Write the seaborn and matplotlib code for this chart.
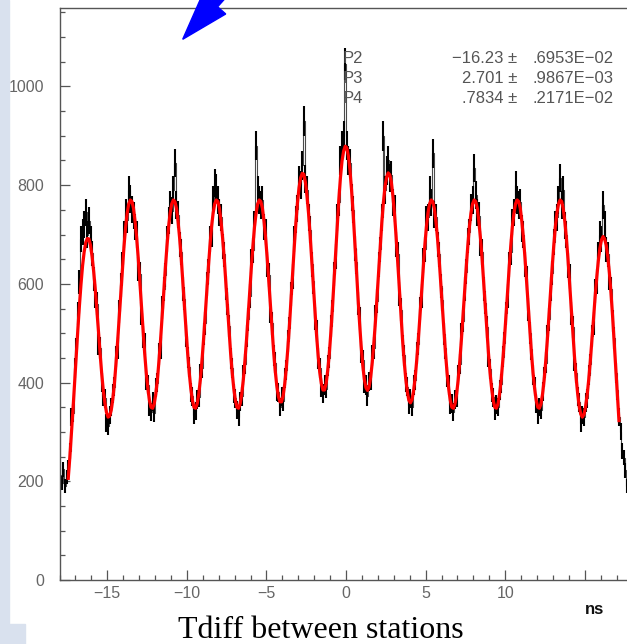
import numpy as np
import pandas as pd
import matplotlib
matplotlib.use("Agg")
import matplotlib.pyplot as plt
from matplotlib.patches import Polygon, Rectangle
from matplotlib.ticker import MultipleLocator, FixedLocator
import seaborn as sns

# Tdiff histogram, 0.1 ns bins starting at -18.0 ns
bin_lo = -18.0
bin_w = 0.1
counts = [
    212, 196, 224, 190, 208, 228, 262, 330, 338, 430, 468, 540, 604, 690, 705, 720, 745, 700,
    728, 690, 662, 610, 575, 560, 478, 470, 400, 372, 368, 318, 312, 335, 350, 378, 392, 452, 470, 545, 598, 640, 700, 745, 730, 790, 772,
    750, 738, 715, 700, 630, 620, 540, 492, 478, 405, 396, 352, 340, 362, 338, 390, 400, 458, 470, 552, 590, 618, 690, 728, 760, 748, 790,
    845, 760, 740, 680, 665, 590, 570, 495, 450, 432, 380, 372, 335, 342, 366, 370, 418, 430, 498, 520, 600, 625, 690, 702, 770, 805, 795,
    770, 745, 735, 676, 660, 592, 560, 515, 448, 430, 378, 368, 345, 330, 362, 372, 415, 438, 495, 528, 575, 645, 668, 720, 880, 790, 770,
    760, 770, 715, 705, 640, 618, 545, 520, 455, 440, 382, 380, 350, 372, 362, 410, 425, 485, 510, 580, 615, 690, 730, 752, 810, 800, 840,
    930, 812, 790, 735, 710, 640, 605, 530, 505, 448, 430, 390, 378, 395, 388, 435, 450, 515, 545, 620, 655, 735, 765, 850, 880, 900, 1045,
    880, 850, 845, 775, 750, 672, 645, 560, 530, 462, 445, 398, 395, 372, 402, 405, 455, 470, 535, 565, 640, 670, 735, 900, 790, 830, 850,
    815, 820, 765, 752, 680, 660, 580, 548, 475, 455, 400, 392, 355, 368, 350, 395, 405, 460, 478, 550, 575, 648, 670, 730, 735, 790, 765,
    865, 740, 735, 680, 660, 595, 568, 498, 470, 412, 395, 355, 358, 340, 365, 370, 415, 438, 498, 525, 590, 625, 688, 705, 755, 770, 835,
    780, 745, 738, 682, 665, 590, 562, 512, 452, 428, 380, 370, 342, 355, 350, 385, 398, 452, 480, 540, 575, 640, 665, 725, 745, 800, 770,
    760, 765, 712, 700, 640, 612, 548, 500, 468, 415, 392, 358, 335, 350, 345, 382, 412, 440, 495, 528, 590, 622, 685, 720, 735, 770, 815,
    760, 790, 718, 700, 638, 615, 540, 512, 445, 420, 372, 360, 318, 335, 330, 360, 368, 415, 438, 495, 520, 585, 605, 660, 700, 690, 760,
    720, 670, 660, 612, 590, 525, 490, 420, 385, 330, 300, 262, 248, 222, 190,
]

# fitted curve, sampled every 0.1 ns from -17.45 ns
fit_start = -17.45
fit_curve = [
    206, 249, 297, 347, 400, 453, 506, 555, 599, 637, 665, 684, 692,
    691, 678, 655, 624, 588, 546, 503, 459, 419, 385, 359, 340, 330, 332, 344, 367, 398, 439, 483, 531, 581, 630, 675, 714, 743, 762, 770,
    767, 753, 726, 692, 651, 604, 555, 506, 460, 420, 388, 364, 350, 348, 357, 377, 406, 444, 487, 534, 583, 632, 676, 715, 743, 762, 770,
    767, 753, 726, 692, 651, 604, 555, 506, 460, 420, 388, 364, 350, 348, 357, 377, 406, 444, 487, 534, 583, 632, 676, 715, 743, 762, 770,
    767, 753, 726, 692, 651, 604, 555, 506, 460, 420, 388, 364, 350, 348, 357, 377, 406, 444, 487, 534, 583, 632, 676, 715, 743, 762, 770,
    767, 753, 727, 693, 652, 605, 557, 509, 464, 425, 394, 372, 361, 361, 373, 397, 430, 471, 518, 569, 623, 675, 723, 764, 795, 815, 824,
    822, 806, 778, 742, 697, 648, 596, 545, 496, 455, 421, 398, 385, 385, 398, 424, 458, 502, 553, 608, 665, 720, 771, 815, 849, 869, 879,
    876, 859, 830, 790, 742, 688, 632, 575, 522, 475, 436, 407, 390, 384, 391, 411, 441, 480, 524, 574, 626, 677, 724, 765, 796, 816, 825,
    821, 806, 777, 740, 695, 645, 592, 539, 488, 445, 409, 382, 364, 359, 366, 384, 411, 448, 490, 537, 585, 633, 677, 715, 744, 762, 770,
    767, 753, 726, 692, 651, 604, 555, 506, 460, 420, 388, 364, 350, 348, 357, 377, 406, 444, 487, 534, 583, 632, 676, 715, 743, 762, 770,
    767, 753, 726, 692, 651, 604, 555, 506, 460, 420, 388, 364, 350, 348, 357, 377, 406, 444, 487, 534, 583, 632, 676, 715, 743, 762, 770,
    767, 753, 726, 692, 651, 604, 555, 506, 460, 420, 388, 364, 350, 348, 357, 377, 406, 444, 487, 534, 583, 632, 676, 715, 743, 762, 770,
    767, 752, 726, 691, 649, 602, 552, 503, 455, 413, 379, 352, 336, 330, 335, 351, 375, 406, 444, 486, 529, 573, 612, 646, 672, 689, 696,
    691, 678, 654, 622, 581, 534, 482, 430, 376, 323,
]

param_names = ["P2", "P3", "P4"]
param_values = ["\u221216.23 \u00b1", "2.701 \u00b1", ".7834 \u00b1"]
param_errors = [".6953E\u221202", ".9867E\u221203", ".2171E\u221202"]

x_ticks = [-15, -10, -5, 0, 5, 10, 15]
x_tick_labels = ["\u221215", "\u221210", "\u22125", "0", "5", "10", ""]
y_ticks = [0, 200, 400, 600, 800, 1000]

assert len(counts) == 357, len(counts)
assert len(fit_curve) == 347, len(fit_curve)

n_bins = len(counts)
bin_hi = bin_lo + bin_w * n_bins
df = pd.DataFrame({"t": bin_lo + bin_w * (np.arange(n_bins) + 0.5), "n": counts})
fit_df = pd.DataFrame({"t": fit_start + bin_w * np.arange(len(fit_curve)), "f": fit_curve})

W, H = 627, 644
fig = plt.figure(figsize=(W / 100, H / 100), dpi=100)
fig.patch.set_facecolor("white")


def fx(px):
    return px / W


def fy(py):
    return 1 - py / H


# slide background bits
slide_blue = "#d9e1ee"
fig.patches.append(Rectangle((0, 0), fx(8.5), 1, transform=fig.transFigure,
                             color=slide_blue, zorder=0))
fig.patches.append(Rectangle((0, 0), fx(25), fy(624), transform=fig.transFigure,
                             color=slide_blue, zorder=0))

ax = fig.add_axes([fx(59.5), fy(580), fx(632.5) - fx(59.5), fy(7.5) - fy(580)])
ax.set_facecolor("none")

sns.histplot(data=df, x="t", weights="n", bins=n_bins, binrange=(bin_lo, bin_hi),
             element="step", fill=False, color="#4a4a4a", linewidth=0.8, ax=ax)
err = np.sqrt(df["n"])
ax.vlines(df["t"], df["n"] - err, df["n"] + err, color="black", lw=1.5)
sns.lineplot(data=fit_df, x="t", y="f", color="#ff0000", lw=2.3, ax=ax)

ax.set_xlim(-18, 18)
ax.set_ylim(0, 1160)
ax.set_xlabel("")
ax.set_ylabel("")

ax.xaxis.set_major_locator(FixedLocator(x_ticks))
ax.set_xticklabels(x_tick_labels)
ax.xaxis.set_minor_locator(MultipleLocator(1))
ax.yaxis.set_major_locator(FixedLocator(y_ticks))
ax.yaxis.set_minor_locator(MultipleLocator(50))
ax.tick_params(which="both", direction="in", color="#555555", width=0.9,
               labelcolor="#666666", labelsize=11.5)
ax.tick_params(which="major", length=7)
ax.tick_params(which="minor", length=3.5)
ax.tick_params(axis="y", pad=11)
ax.tick_params(axis="x", pad=4)
for lab in ax.get_xticklabels() + ax.get_yticklabels():
    lab.set_family("Liberation Sans")
for side in ["left", "top", "right", "bottom"]:
    ax.spines[side].set_color("#555555")
    ax.spines[side].set_linewidth(1.0)

# fit parameter box
for i, (nm, val, er) in enumerate(zip(param_names, param_values, param_errors)):
    yb = fy(63 + 20 * i)
    fig.text(fx(342.5), yb, nm, ha="left", va="baseline", fontsize=12,
             color="#555555", family="Liberation Sans")
    fig.text(fx(517), yb, val, ha="right", va="baseline", fontsize=12,
             color="#555555", family="Liberation Sans")
    fig.text(fx(533), yb, er, ha="left", va="baseline", fontsize=12,
             color="#555555", family="Liberation Sans")

fig.text(fx(595), fy(614), "ns", ha="center", va="baseline", fontsize=12,
         weight="bold", color="#111111", family="Liberation Sans")
fig.text(fx(321), fy(638), "Tdiff between stations", ha="center", va="baseline",
         fontsize=23, color="black", family="Liberation Serif")

# blue arrow pointing down-left
tip = np.array([182.7, 39.3])
a = np.array([0.665, -0.747])
p = np.array([0.747, 0.665])
mid = tip + 47.5 * a
pts = [tip, mid + 15.3 * p, mid + 4.5 * p, mid + 4.5 * p + 90 * a,
       mid - 4.5 * p + 90 * a, mid - 4.5 * p, mid - 15.3 * p]
fig.patches.append(Polygon([(fx(x), fy(y)) for x, y in pts], closed=True,
                           transform=fig.transFigure, color="#0000ff", zorder=5))

fig.savefig("out.png", dpi=100)
